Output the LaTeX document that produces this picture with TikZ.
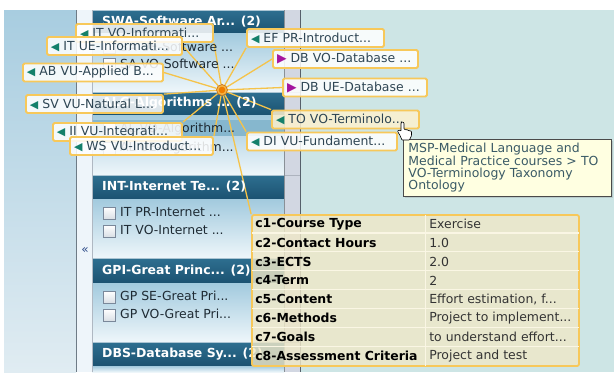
\documentclass[tikz,border=0pt]{standalone}
\usepackage{fontspec}
\setmainfont{DejaVu Sans}
\usetikzlibrary{calc,shadows}

\definecolor{pageTeal}{HTML}{CDE5E5}
\definecolor{sideA}{HTML}{A8CDE0}
\definecolor{sideB}{HTML}{E0ECF2}
\definecolor{sideLine}{HTML}{6E7B86}
\definecolor{stripPale}{HTML}{EEF5FA}
\definecolor{stripGrey}{HTML}{D2D7E2}
\definecolor{darkLine}{HTML}{56606A}
\definecolor{hdrTop}{HTML}{2E6F90}
\definecolor{hdrBot}{HTML}{1B5271}
\definecolor{bodyTop}{HTML}{A2CADE}
\definecolor{bodyBot}{HTML}{EEF6FA}
\definecolor{hlRow}{HTML}{86B7CE}
\definecolor{itemText}{HTML}{1E2A33}
\definecolor{chkBorder}{HTML}{7A889A}
\definecolor{chkFill}{HTML}{D9DFE5}
\definecolor{lblBorder}{HTML}{F7C85A}
\definecolor{lineGold}{HTML}{F5C34A}
\definecolor{lblText}{HTML}{2E4553}
\definecolor{triTeal}{HTML}{14806B}
\definecolor{triPurple}{HTML}{A4159E}
\definecolor{hubOrange}{HTML}{F07D00}
\definecolor{hubRing}{HTML}{F5B445}
\definecolor{hubEdge}{HTML}{C8741A}
\definecolor{toFill}{HTML}{FDF1CF}
\definecolor{tblFill}{HTML}{EFE8C8}
\definecolor{tblSep}{HTML}{FAF6E4}
\definecolor{tipFill}{HTML}{FFFFE1}
\definecolor{tipText}{HTML}{3A5A66}
\definecolor{tipEdge}{HTML}{4A4A4A}
\definecolor{backArrow}{HTML}{2C4A88}

% label contents: coloured arrow mark, then the course name
\newcommand\markL[1]{\mbox{{\color{triTeal}\fontsize{11}{11}\selectfont ◀}\hspace{4bp}#1}}
\newcommand\markR[1]{\mbox{{\color{triPurple}\fontsize{12.5}{12}\selectfont ▶}\hspace{4bp}#1}}

\pgfdeclarelayer{panel}
\pgfdeclarelayer{links}
\pgfsetlayers{panel,links,main}

\begin{document}
\begin{tikzpicture}[x=1bp,y=-1bp,
  every node/.style={inner sep=0pt},
  lbl/.style={draw=lblBorder, line width=1.8bp, fill=white, fill opacity=0.85,
    text opacity=1, rounded corners=1.5bp, inner xsep=4bp, inner ysep=0bp,
    minimum height=18bp, align=left, text=lblText,
    font=\fontsize{12.5}{14}\selectfont},
  hdr/.style={anchor=west, text=white, font=\fontsize{12.5}{14}\selectfont\bfseries},
  item/.style={anchor=west, text=itemText, font=\fontsize{12.5}{14}\selectfont},
  chk/.style={draw=chkBorder, top color=white, bottom color=chkFill,
    minimum size=12bp, line width=0.8bp},
  link/.style={draw=lineGold, line width=1.3bp},
  tblbox/.style={draw=lblBorder, line width=1.8bp, fill=tblFill, fill opacity=0.82,
    rounded corners=2bp},
  tkey/.style={anchor=west, text=black, font=\fontsize{12.5}{14}\selectfont\bfseries},
  tval/.style={anchor=west, text=black!80, font=\fontsize{12.5}{14}\selectfont},
  tip/.style={draw=tipEdge, line width=0.9bp, fill=tipFill, text=tipText,
    inner xsep=5bp, inner ysep=4bp, align=left,
    font=\fontsize{12.5}{12.4}\selectfont,
    drop shadow={shadow xshift=1.5bp, shadow yshift=-1.5bp, opacity=0.25}}
]
\useasboundingbox (0,0) rectangle (614,372);

\begin{pgfonlayer}{panel}
\fill[white] (0,0) rectangle (614,372);
% left background, collapse strip and right canvas
\shade[top color=sideA, bottom color=sideB] (4,10) rectangle (76,372);
\fill[stripPale] (77,10) rectangle (92,372);
\draw[sideLine, line width=1.5bp] (76.5,10) -- (76.5,372);
\fill[pageTeal] (300,10) rectangle (614,372);
\fill[stripGrey] (284,10) rectangle (300,372);
\draw[darkLine, line width=1.2bp] (300.5,10) -- (300.5,372);
\foreach \yy in {92,175,258,342} \draw[stripGrey!70!darkLine, line width=0.6bp] (284,\yy) -- (300,\yy);

% category panels: headers and bodies
\foreach \hdT/\hdB/\bdB in {10/33/92, 92/115/175, 175/199/258, 258/283/342, 342/366/372}{
  \shade[top color=hdrTop, bottom color=hdrBot] (92,\hdT) rectangle (284,\hdB);
  \draw[white!60!hdrTop, line width=0.6bp] (92,\hdT+0.4) -- (284,\hdT+0.4);
  \shade[top color=bodyTop, bottom color=bodyBot] (92,\hdB) rectangle (284,\bdB);
}
\fill[hlRow] (92,120) rectangle (284,136);
\draw[chkBorder!60, line width=0.6bp] (92.3,10) -- (92.3,372);
\draw[darkLine!70, line width=0.8bp] (284,10) -- (284,372);
\end{pgfonlayer}

\node[text=backArrow, font=\fontsize{12}{12}\selectfont] (back) at (85,250) {«};

\node[hdr] (hSWA) at (102,21.5) {SWA-Software Ar... (2)};
\node[hdr] (hALG) at (102,103.5) {ALG-Algorithms ... (2)};
\node[hdr] (hINT) at (102,187) {INT-Internet Te... (2)};
\node[hdr] (hGPI) at (102,270.5) {GPI-Great Princ... (2)};
\node[hdr] (hDBS) at (102,354) {DBS-Database Sy... (2)};

\node[chk] (cb1) at (109,47) {};   \node[item] (i1) at (120,47) {SA UE-Software ...};
\node[chk] (cb2) at (109,64) {};   \node[item] (i2) at (120,64) {SA VO-Software ...};
\node[chk] (cb3) at (109,129) {};  \node[item] (i3) at (120,129) {AL VO-Algorithm...};
\node[chk] (cb4) at (109,148) {};  \node[item] (i4) at (120,148) {AL UE-Algorithm...};
\node[chk] (cb5) at (109,213) {};  \node[item] (i5) at (120,212) {IT PR-Internet ...};
\node[chk] (cb6) at (109,231) {};  \node[item] (i6) at (120,230) {IT VO-Internet ...};
\node[chk] (cb7) at (109,297) {};  \node[item] (i7) at (120,296) {GP SE-Great Pri...};
\node[chk] (cb8) at (109,315) {};  \node[item] (i8) at (120,314) {GP VO-Great Pri...};

% radial course graph around the selected course
\node[circle, minimum size=11bp] (hub) at (222,90) {};

\node[lbl, text width=129bp] (itvo) at (144.5,33) {\markL{IT VO-Informati...}};
\node[lbl, text width=127bp] (itue) at (114.5,46) {\markL{IT UE-Informati...}};
\node[lbl, text width=132bp] (ab)   at (93,72.5)  {\markL{AB VU-Applied B...}};
\node[lbl, text width=129bp] (sv)   at (94.5,104) {\markL{SV VU-Natural L...}};
\node[lbl, text width=121bp] (ii)   at (117.5,132){\markL{II VU-Integrati...}};
\node[lbl, text width=135bp] (ws)   at (141.5,146){\markL{WS VU-Introduct...}};
\node[lbl, text width=129bp] (ef)   at (315.5,38) {\markL{EF PR-Introduct...}};
\node[lbl, text width=137bp] (dbvo) at (345.5,59) {\markR{DB VO-Database ...}};
\node[lbl, text width=136bp] (dbue) at (355,87.5) {\markR{DB UE-Database ...}};
\node[lbl, text width=139bp, fill=toFill] (to) at (345.5,119.5) {\markL{TO VO-Terminolo...}};
\node[lbl, text width=142bp] (di)   at (322,141.5){\markL{DI VU-Fundament...}};

% details table of the selected course
\node[tblbox, minimum width=327bp, minimum height=151bp] (tbl) at (415.5,290.5) {};

\begin{pgfonlayer}{links}
\foreach \t in {itvo.south east, itue.east, ab.east, sv.north east, ii.north east,
  ws.north east, ef.south west, dbvo.west, dbue.west, to.north west, di.north west,
  tbl.north west}
  \draw[link] (hub) -- (\t);
\end{pgfonlayer}

\fill[hubRing, draw=hubEdge, line width=0.7bp] (hub.center) circle (5.5bp);
\fill[hubOrange] (hub.center) circle (3.3bp);

\foreach \i in {1,...,7}
  \draw[tblSep, line width=1.2bp] ($(tbl.north west)+(0.9,18.875*\i)$) -- ($(tbl.north east)+(-0.9,18.875*\i)$);
\draw[tblSep, line width=1.2bp] ($(tbl.north west)+(174,0.9)$) -- ($(tbl.south west)+(174,-0.9)$);

\foreach \k/\v [count=\i] in {c1-Course Type/Exercise, c2-Contact Hours/1.0,
  c3-ECTS/2.0, c4-Term/2, c5-Content/{Effort estimation, f...},
  c6-Methods/{Project to implement...}, c7-Goals/{to understand effort...},
  c8-Assessment Criteria/Project and test}{
  \node[tkey] (k\i) at ($(tbl.north west)+(4,18.875*\i-9.2)$) {\k};
  \node[tval] (v\i) at ($(tbl.north west)+(178,18.875*\i-9.2)$) {\v};
}

% hover tooltip and pointer
\node[tip, text width=198bp, anchor=north west] (tipbox) at (403,139)
  {MSP-Medical Language and\\Medical Practice courses > TO\\VO-Terminology Taxonomy\\Ontology};
\draw[fill=white, draw=black, line width=0.6bp, rounded corners=0.6bp, shift={(401,122)}]
  (0,1) -- (0,9) -- (-2,8) -- (-3.5,9.2) -- (-1,13.5) -- (1,18) -- (8.5,18) -- (10.5,13.5)
  -- (10.5,9.5) -- (9,8.6) -- (7.5,8.8) -- (6.3,7.6) -- (4.7,7.9) -- (3,7) -- (3,1)
  -- (1.5,-0.2) -- cycle;
\end{tikzpicture}
\end{document}
